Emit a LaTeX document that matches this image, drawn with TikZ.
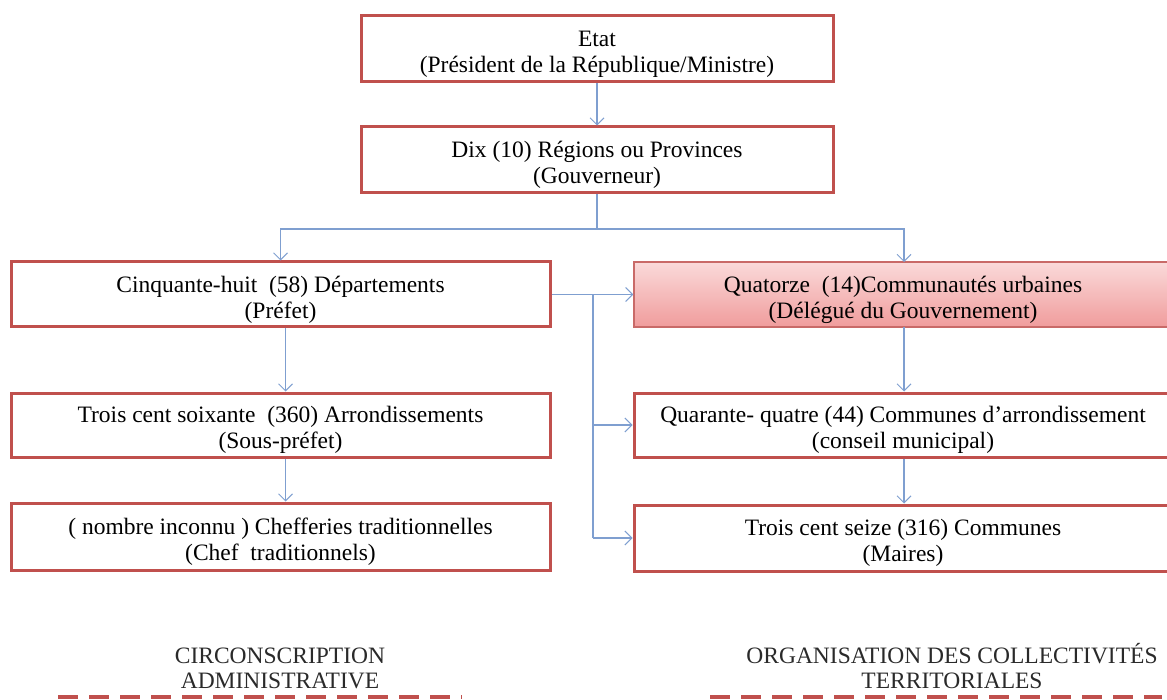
\documentclass[tikz,border=0pt]{standalone}
\usepackage{fontspec}
\setmainfont{Liberation Serif}
\usetikzlibrary{arrows.meta}
\definecolor{boxred}{HTML}{C0504D}
\definecolor{linkblue}{HTML}{7F9FD0}
\definecolor{pinktop}{HTML}{FADADA}
\definecolor{pinkbot}{HTML}{F09C9C}
\definecolor{labgray}{HTML}{2A2A2A}
\tikzset{
  orgbox/.style={draw=boxred, line width=3pt, fill=white, rectangle, inner sep=0pt},
  pinkbox/.style={orgbox, draw=boxred!85, line width=1.5pt, top color=pinktop, bottom color=pinkbot},
  boxtext/.style={align=center, inner sep=0pt, yshift=-5pt, font=\fontsize{23.5}{26}\selectfont},
  link/.style={draw=linkblue, line width=1.2pt},
  arr/.style={link, -{Straight Barb[length=7pt,width=14pt,line width=1pt]}},
  sectlab/.style={align=center, text=labgray, anchor=north, inner sep=0pt, font=\fontsize{23.5}{25}\selectfont},
  dashline/.style={draw=boxred, line width=4pt, dash pattern=on 20pt off 11pt}
}
\begin{document}
\begin{tikzpicture}[x=1pt,y=-1pt]
\useasboundingbox (0,0) rectangle (1167,700);
\node[orgbox, minimum width=472pt, minimum height=66pt, label={[boxtext]center:{Etat\\(Président de la République/Ministre)}}] (etat) at (597,49) {};
\node[orgbox, minimum width=472pt, minimum height=66pt, label={[boxtext]center:{Dix (10) Régions ou Provinces\\(Gouverneur)}}] (dix) at (597,160) {};
\node[orgbox, minimum width=539pt, minimum height=65pt, label={[boxtext]center:{Cinquante-huit\ \ (58) Départements\\(Préfet)}}] (cinq) at (280.5,294.5) {};
\node[pinkbox, minimum width=538pt, minimum height=65pt, label={[boxtext]center:{Quatorze\ \ (14)Communautés urbaines\\(Délégué du Gouvernement)}}] (quat) at (903,294.5) {};
\node[orgbox, minimum width=539pt, minimum height=64pt, label={[boxtext]center:{Trois cent soixante\ \ (360) Arrondissements\\(Sous-préfet)}}] (arr) at (280.5,425) {};
\node[orgbox, minimum width=538pt, minimum height=64pt, label={[boxtext]center:{Quarante- quatre (44) Communes d’arrondissement\\(conseil municipal)}}] (quar) at (903,425) {};
\node[orgbox, minimum width=539pt, minimum height=67pt, label={[boxtext]center:{( nombre inconnu ) Chefferies traditionnelles\\(Chef\ \ traditionnels)}}] (chef) at (280.5,536.5) {};
\node[orgbox, minimum width=538pt, minimum height=66pt, label={[boxtext]center:{Trois cent seize (316) Communes\\(Maires)}}] (comm) at (903,538) {};

\coordinate (split) at (597,229);
\coordinate (fork) at (593,294.5);
\coordinate (qin) at (904,262);
\coordinate (qout) at (904,327);
\draw[arr] (etat.south) -- (dix.north);
\draw[link] (dix.south) -- (split);
\draw[arr] (split) -| (cinq.north);
\draw[arr] (split) -| (qin);
\draw[link] (cinq.east) -- (fork);
\draw[arr] (fork) -- (quat.west);
\draw[link] (fork) -- (fork |- comm.west);
\draw[arr] (fork |- quar.west) -- (quar.west);
\draw[arr] (fork |- comm.west) -- (comm.west);
\draw[arr] ([xshift=5pt]cinq.south) -- ([xshift=5pt]arr.north);
\draw[arr] ([xshift=5pt]arr.south) -- ([xshift=5pt]chef.north);
\draw[arr] (qout) -- (qout |- quar.north);
\draw[arr] (qout |- quar.south) -- (qout |- comm.north);

\node[sectlab] (lab1) at (280,643) {\vphantom{É}CIRCONSCRIPTION\\ADMINISTRATIVE};
\node[sectlab] (lab2) at (952,643) {ORGANISATION DES COLLECTIVITÉS\\TERRITORIALES};
\coordinate (d1a) at (58,697);
\coordinate (d1b) at (462,697);
\coordinate (d2a) at (710,697);
\coordinate (d2b) at (1162,697);
\draw[dashline] (d1a) -- (d1b);
\draw[dashline] (d2a) -- (d2b);
\end{tikzpicture}
\end{document}
